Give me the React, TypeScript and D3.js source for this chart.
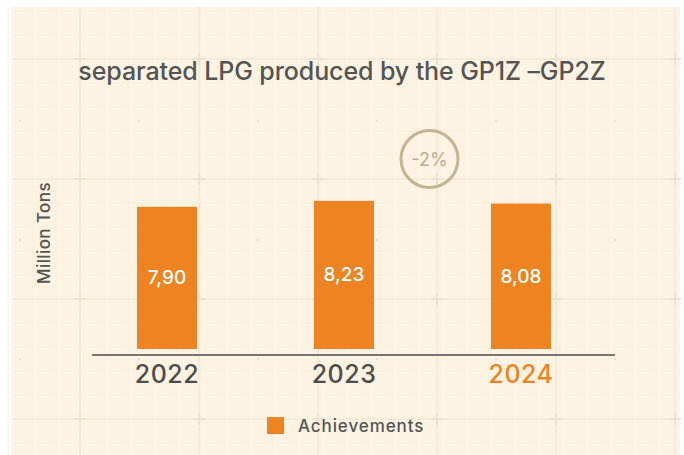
import React from "react";
import * as d3 from "d3";

const years = ["2022", "2023", "2024"];
const achievements = [7.9, 8.23, 8.08];
const valueLabels = ["7,90", "8,23", "8,08"];
const changeLabel = "-2%";
const title = "separated LPG produced by the GP1Z –GP2Z";
const yLabel = "Million Tons";
const legendLabel = "Achievements";

const W = 684;
const H = 455;
const ORANGE = "#ee8322";
const TEXT = "#545454";
const BG = "#fdf3e2";

export default function App() {
  const x = d3.scalePoint<string>().domain(years).range([78.5, 609.5]).padding(0.5);
  const y = d3.scaleLinear().domain([0, 10]).range([349, 169]);
  const barW = 60;

  const minorX = d3.range(8, 680, 24);
  const minorY = d3.range(11, H, 24);
  const majorX = d3.range(80, 680, 119);
  const majorY = d3.range(59, H, 120);
  const dotX = d3.range(20, 680, 119);
  const dotY = [121, 240, 359];

  const cx = ((x("2023") as number) + (x("2024") as number)) / 2 - 3;

  return (
    <svg
      width={W}
      height={H}
      style={{ position: "absolute", left: 0, top: 0, display: "block" }}
      fontFamily="Inter, 'DejaVu Sans', sans-serif"
    >
      <rect x={0} y={0} width={W} height={H} fill="#ffffff" />
      <rect x={12} y={7} width={668} height={H - 7} fill={BG} />
      <g>
        {minorX.map((v) => (
          <line key={"mx" + v} x1={v} x2={v} y1={7} y2={H} stroke="#f9eedc" strokeWidth={1} />
        ))}
        {minorY.map((v) => (
          <line key={"my" + v} x1={12} x2={680} y1={v} y2={v} stroke="#f9eedc" strokeWidth={1} />
        ))}
        {majorX.map((v) => (
          <line key={"Mx" + v} x1={v} x2={v} y1={7} y2={H} stroke="#f3e8d6" strokeWidth={1.5} />
        ))}
        {majorY.map((v) => (
          <line key={"My" + v} x1={12} x2={680} y1={v} y2={v} stroke="#f3e8d6" strokeWidth={1.5} />
        ))}
        {majorX.map((vx) =>
          majorY.map((vy) => (
            <g key={"p" + vx + "-" + vy} stroke="#ebe0cf" strokeWidth={1.5}>
              <line x1={vx - 6} x2={vx + 6} y1={vy} y2={vy} />
              <line x1={vx} x2={vx} y1={vy - 6} y2={vy + 6} />
            </g>
          ))
        )}
        {dotX.map((vx) =>
          dotY.map((vy) => <rect key={"d" + vx + "-" + vy} x={vx - 1} y={vy - 1} width={2} height={2} fill="#e9dfd0" />)
        )}
      </g>

      <text x={342} y={80} textAnchor="middle" fontSize={25} fontWeight={500} fill={TEXT} letterSpacing={-0.1}>
        {title}
      </text>

      <text
        transform={`translate(50, 233) rotate(-90)`}
        textAnchor="middle"
        fontSize={17}
        fontWeight={500}
        fill={TEXT}
        letterSpacing={0.4}
      >
        {yLabel}
      </text>

      {years.map((yr, i) => {
        const cxb = x(yr) as number;
        const v = achievements[i];
        return (
          <g key={yr}>
            <rect x={cxb - barW / 2} y={y(v)} width={barW} height={y(0) - y(v)} fill={ORANGE} />
            <text
              x={cxb}
              y={(y(v) + y(0)) / 2}
              textAnchor="middle"
              dominantBaseline="central"
              fontSize={19}
              fontWeight={500}
              fill="#ffffff"
            >
              {valueLabels[i]}
            </text>
            <text
              x={cxb}
              y={383}
              textAnchor="middle"
              fontSize={25}
              fontWeight={500}
              fill={i === years.length - 1 ? ORANGE : "#4d4d4d"}
              letterSpacing={0.5}
            >
              {yr}
            </text>
          </g>
        );
      })}

      <line x1={92} x2={615} y1={355} y2={355} stroke="#787470" strokeWidth={2} />

      <circle cx={cx} cy={159} r={28.5} fill="none" stroke="#c2b594" strokeWidth={3} />
      <text x={cx} y={159} textAnchor="middle" dominantBaseline="central" fontSize={18} fill="#b9ad8e">
        {changeLabel}
      </text>

      <rect x={267} y={417} width={17} height={17} fill={ORANGE} />
      <text x={298} y={432} fontSize={17} fontWeight={500} fill={TEXT} letterSpacing={0.9}>
        {legendLabel}
      </text>
    </svg>
  );
}
